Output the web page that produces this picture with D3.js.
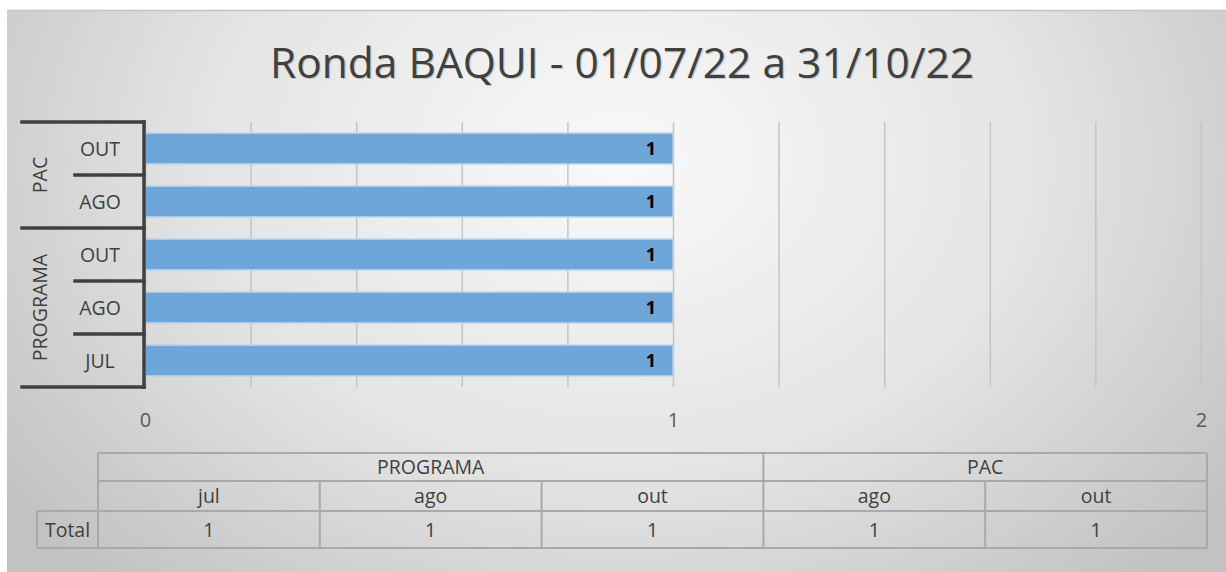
<!DOCTYPE html>
<html><head><meta charset="utf-8">
<script src="https://cdn.jsdelivr.net/npm/d3@7"></script>
<style>
html,body{margin:0;padding:0;background:#fff;}
svg{display:block;}
text{font-family:"Open Sans","Noto Sans",sans-serif;}
</style></head>
<body>
<svg id="c" width="1226" height="572"></svg>
<script>
const title = "Ronda BAQUI - 01/07/22 a 31/10/22";
const groups = ["PROGRAMA","PROGRAMA","PROGRAMA","PAC","PAC"];
const months = ["jul","ago","out","ago","out"];
const values = [1,1,1,1,1];
const xTickLabels = [0,1,2];
const rowLabel = "Total";

(function(){
const svg = d3.select("#c");
const defs = svg.append("defs");
const rg = defs.append("radialGradient").attr("id","bg")
  .attr("gradientUnits","userSpaceOnUse")
  .attr("cx",620).attr("cy",160).attr("r",760)
  .attr("gradientTransform","translate(620,160) scale(1,0.75) translate(-620,-160)");
rg.append("stop").attr("offset","0").attr("stop-color","#f9f9f9");
rg.append("stop").attr("offset","0.55").attr("stop-color","#e4e4e4");
rg.append("stop").attr("offset","1").attr("stop-color","#c2c2c2");

svg.append("rect").attr("x",7).attr("y",10).attr("width",1219).attr("height",562).attr("fill","url(#bg)");
svg.append("line").attr("x1",7).attr("x2",1226).attr("y1",10.5).attr("y2",10.5).attr("stroke","#c4c4c4").attr("stroke-width",1.5);

// title
svg.append("text").attr("x",622).attr("y",78).attr("text-anchor","middle")
  .attr("font-size",42.5).attr("fill","#7f7f7f").attr("opacity",0.35)
  .attr("transform","translate(1.2,1.2)").text(title);
svg.append("text").attr("x",622).attr("y",78).attr("text-anchor","middle")
  .attr("font-size",42.5).attr("fill","#404040").text(title);

const pL = 145, pR = 1201, pT = 122, pB = 387;
const x = d3.scaleLinear().domain([0,2]).range([pL,pR]);
const idx = d3.range(values.length);
const y = d3.scaleBand().domain(idx.slice().reverse()).range([pT,pB]).paddingInner(0.42).paddingOuter(0.21);
const yRow = d3.scaleBand().domain(idx.slice().reverse()).range([pT,pB]);

// gridlines
const grid = d3.axisBottom(x).tickValues(d3.range(0,11).map(i=>i*0.2)).tickSize(-(pB-pT)).tickFormat("");
const gg = svg.append("g").attr("transform",`translate(0,${pB})`).call(grid);
gg.select(".domain").remove();
gg.selectAll("line").attr("stroke","#c4c4c4").attr("stroke-width",1.5);

// bars
svg.append("g").selectAll("rect").data(idx).join("rect")
  .attr("x",x(0)).attr("y",i=>y(i)).attr("width",i=>x(values[i])-x(0)).attr("height",y.bandwidth())
  .attr("fill","#6fa6da").attr("stroke","#b4d0ea").attr("stroke-width",1.5);

// value labels
svg.append("g").selectAll("text").data(idx).join("text")
  .attr("x",i=>x(values[i])-17).attr("y",i=>y(i)+y.bandwidth()/2).attr("dy","0.38em")
  .attr("text-anchor","end").attr("font-size",18).attr("font-weight","bold").attr("fill","#000")
  .text(i=>values[i]);

// x axis labels
const xa = d3.axisBottom(x).tickValues(xTickLabels).tickSize(0).tickPadding(0).tickFormat(d3.format("d"));
const xg = svg.append("g").attr("transform",`translate(0,${pB+40})`).call(xa);
xg.select(".domain").remove();
xg.selectAll("text").attr("font-size",20).attr("fill","#595959").attr("font-family","'Open Sans',sans-serif").attr("dy","0");

// category axis
const ax = svg.append("g").attr("stroke","#404040").attr("stroke-width",3.5).attr("stroke-linecap","square");
ax.append("line").attr("x1",pL-1).attr("x2",pL-1).attr("y1",pT).attr("y2",pB);
const groupNames = [...new Set(groups)];
const gInfo = groupNames.map(g=>{
  const ii = idx.filter(i=>groups[i]===g);
  const ys = ii.map(i=>yRow(i));
  return {g, y0:d3.min(ys), y1:d3.max(ys)+yRow.bandwidth()};
});
const outerLines = new Set();
gInfo.forEach(d=>{outerLines.add(d.y0);outerLines.add(d.y1);});
[...outerLines].forEach(v=>{
  ax.append("line").attr("x1",22).attr("x2",pL-1).attr("y1",v).attr("y2",v);
});
idx.forEach(i=>{
  const yy = yRow(i);
  if(!outerLines.has(yy)) ax.append("line").attr("x1",75).attr("x2",pL-1).attr("y1",yy).attr("y2",yy);
});
svg.append("g").selectAll("text").data(idx).join("text")
  .attr("x",100).attr("y",i=>yRow(i)+yRow.bandwidth()/2).attr("dy","0.36em")
  .attr("text-anchor","middle").attr("font-size",19.5).attr("fill","#404040")
  .text(i=>months[i].toUpperCase());
svg.append("g").selectAll("text").data(gInfo).join("text")
  .attr("transform",d=>`translate(40,${(d.y0+d.y1)/2}) rotate(-90)`).attr("dy","0.36em")
  .attr("text-anchor","middle").attr("font-size",19.5).attr("fill","#404040")
  .text(d=>d.g);

// data table
const tl = 98, tr = 1207, r0 = 453, r1 = 481, r2 = 511, r3 = 548;
const cx = d3.scaleBand().domain(idx).range([tl,tr]);
const tg = svg.append("g");
const lc = "#a9a9a9", lw = 2;
function hl(x1,x2,yv){tg.append("line").attr("x1",x1).attr("x2",x2).attr("y1",yv).attr("y2",yv).attr("stroke",lc).attr("stroke-width",lw);}
function vl(xv,y1,y2){tg.append("line").attr("x1",xv).attr("x2",xv).attr("y1",y1).attr("y2",y2).attr("stroke",lc).attr("stroke-width",lw);}
hl(tl,tr,r0); hl(tl,tr,r1); hl(37,tr,r2); hl(37,tr,r3);
vl(37,r2,r3); vl(tl,r0,r3); vl(tr,r0,r3);
const tInfo = groupNames.map(g=>{
  const ii = idx.filter(i=>groups[i]===g);
  return {g, x0:d3.min(ii.map(i=>cx(i))), x1:d3.max(ii.map(i=>cx(i)+cx.bandwidth()))};
});
tInfo.forEach((d,k)=>{ if(k>0) vl(d.x0,r0,r3); });
idx.forEach(i=>{ if(i>0 && !tInfo.some(d=>d.x0===cx(i))) vl(cx(i),r1,r3); });
const tt = svg.append("g").attr("font-size",19.5).attr("fill","#404040").attr("text-anchor","middle");
tInfo.forEach(d=>tt.append("text").attr("x",(d.x0+d.x1)/2).attr("y",(r0+r1)/2).attr("dy","0.36em").text(d.g));
idx.forEach(i=>{
  tt.append("text").attr("x",cx(i)+cx.bandwidth()/2).attr("y",(r1+r2)/2).attr("dy","0.36em").text(months[i]);
  tt.append("text").attr("x",cx(i)+cx.bandwidth()/2).attr("y",(r2+r3)/2).attr("dy","0.36em").text(values[i]);
});
tt.append("text").attr("x",(37+tl)/2).attr("y",(r2+r3)/2).attr("dy","0.36em").text(rowLabel);
})();
</script>
</body></html>
